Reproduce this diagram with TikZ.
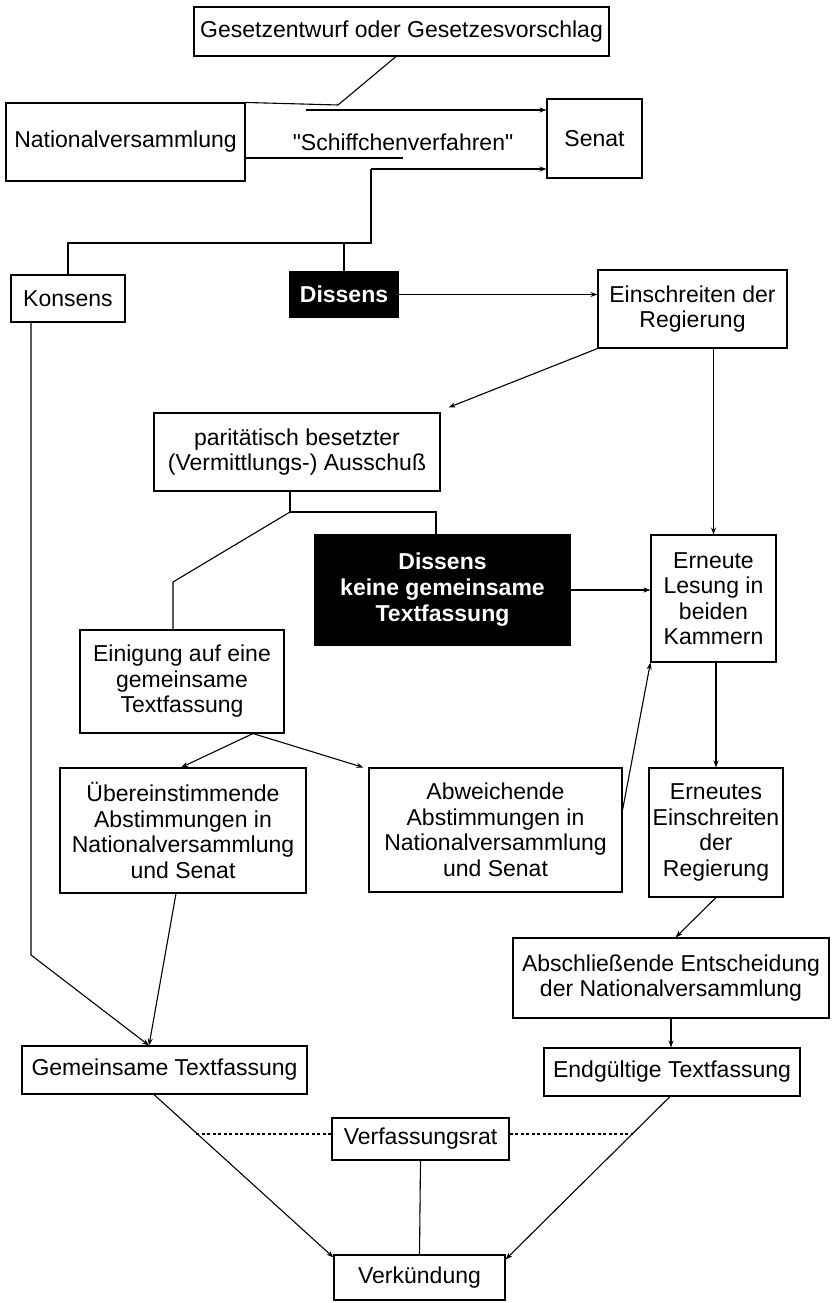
\documentclass[tikz,border=0pt]{standalone}
\usepackage{fontspec}
\setmainfont{Liberation Sans}
\newfontfamily\qfont{Liberation Sans}[Ligatures=TeXOff]
\usetikzlibrary{arrows.meta,calc}
\begin{document}
\begin{tikzpicture}[x=1pt,y=-1pt,
  txt/.style={font=\fontsize{23}{25.5}\selectfont, align=center, inner sep=0pt},
  box/.style={txt, draw, line width=1.1pt},
  dark/.style={box, fill=black, text=white, font=\bfseries\fontsize{23}{26}\selectfont},
  con/.style={line width=1.1pt},
  arr/.style={con, -{Stealth[length=7pt,width=5pt]}},
  dot/.style={con, dash pattern=on 3pt off 2.5pt},
]
\useasboundingbox (0,0) rectangle (831,1303);

\node[box, minimum width=415, minimum height=49] (gesetz) at (401.5,31.5) {Gesetzentwurf oder Gesetzesvorschlag};
\node[box, minimum width=239, minimum height=78] (nat) at (125.5,142) {Nationalversammlung};
\node[txt, font=\qfont\fontsize{23}{25.5}\selectfont] (schiff) at (403,142) {"Schiffchenverfahren"};
\node[box, minimum width=95, minimum height=79] (senat) at (594.5,138.5) {Senat};
\node[box, minimum width=114, minimum height=47] (konsens) at (68,298.5) {Konsens};
\node[dark, minimum width=108, minimum height=45] (dis1) at (344,294.5) {Dissens};
\node[box, minimum width=189, minimum height=78] (einschr) at (692.5,309) {Einschreiten der\\Regierung};
\node[box, minimum width=286, minimum height=78] (parit) at (297,452) {paritätisch besetzter\\(Vermittlungs-) Ausschuß};
\node[dark, minimum width=255, minimum height=110] (dis2) at (442.5,590) {Dissens\\keine gemeinsame\\Textfassung};
\node[box, minimum width=125, minimum height=127] (lesung) at (713.5,598.5) {Erneute\\Lesung in\\beiden\\Kammern};
\node[box, minimum width=204, minimum height=103] (einig) at (182,681.5) {Einigung auf eine\\gemeinsame\\Textfassung};
\node[box, minimum width=246, minimum height=125] (ueber) at (183,830.5) {Übereinstimmende\\Abstimmungen in\\Nationalversammlung\\und Senat};
\node[box, minimum width=253, minimum height=124] (abw) at (495.5,830) {Abweichende\\Abstimmungen in\\Nationalversammlung\\und Senat};
\node[box, minimum width=134, minimum height=129] (erneutes) at (716,832.5) {Erneutes\\Einschreiten\\der\\Regierung};
\node[box, minimum width=316, minimum height=80] (abschl) at (671,978) {Abschließende Entscheidung\\der Nationalversammlung};
\node[box, minimum width=285, minimum height=48] (gemeins) at (164.5,1070) {Gemeinsame Textfassung};
\node[box, minimum width=256, minimum height=48] (endg) at (672,1072) {Endgültige Textfassung};
\node[box, minimum width=177, minimum height=42] (verfass) at (420.5,1139) {Verfassungsrat};
\node[box, minimum width=171, minimum height=45] (verk) at (419.5,1277.5) {Verkündung};

% Schiffchenverfahren
\coordinate (c1) at (338,105);
\draw[con] ([xshift=-5.5pt]gesetz.south) -- (c1);
\draw[con] (nat.north east) -- (c1);
\coordinate (a1) at (306,110);
\draw[arr] (a1) -- (a1 -| senat.west);
\coordinate (u2) at (403,158);
\draw[con] (u2 -| nat.east) -- (u2);
\coordinate (b1) at (371,169);
\draw[arr] (b1) -- (b1 -| senat.west);

% Konsens / Dissens
\coordinate (j1) at (371,243);
\draw[con] (b1) -- (j1) -- (j1 -| konsens.north) -- (konsens.north);
\draw[con] (j1 -| dis1.north) -- (dis1.north);
\draw[arr] (dis1.east) -- (dis1.east -| einschr.west);
\draw[arr] (einschr.south west) -- ([shift={(8,-5)}]parit.north east);
\draw[arr] (lesung.north |- einschr.south) -- (lesung.north);

% Ausschuss
\coordinate (c2) at (290,512);
\coordinate (c3) at (436,512);
\coordinate (c4) at (173,582);
\draw[con] (c2 |- parit.south) -- (c2) -- (c3) -- (c3 |- dis2.north);
\draw[con] (c2) -- (c4) -- (c4 |- einig.north);
\draw[arr] (dis2.east) -- (dis2.east -| lesung.west);

% Einigung
\coordinate (e1) at ([xshift=71pt]einig.south);
\draw[arr] (e1) -- ([xshift=-2pt]ueber.north);
\draw[arr] (e1) -- ([xshift=-5pt]abw.north west);
\draw[arr] ([yshift=20pt]abw.east) -- (lesung.south west);
\draw[arr] (erneutes.north |- lesung.south) -- (erneutes.north);
\draw[arr] (erneutes.south) -- ([xshift=4.5pt]abschl.north);
\draw[arr] (abschl.south) -- (abschl.south |- endg.north);

% Konsens path
\coordinate (k1) at (31,955);
\coordinate (g1) at ([xshift=-15.5pt]gemeins.north);
\draw[arr] (konsens.south -| k1) -- (k1) -- (g1);
\draw[arr] ([xshift=-7pt]ueber.south) -- (g1);

% bottom
\coordinate (gs) at ([xshift=-10.5pt]gemeins.south);
\coordinate (es) at ([xshift=-2pt]endg.south);
\coordinate (vl) at ([yshift=-3pt]verk.north west);
\coordinate (vr) at ([yshift=-5pt]verk.north east);
\draw[arr] (gs) -- (vl);
\draw[arr] (es) -- (vr);
\path ($(gs)!0.235!(vl)$) coordinate (d1);
\path ($(es)!0.223!(vr)$) coordinate (d2);
\coordinate (fw) at ([yshift=5pt]verfass.west);
\coordinate (fe) at ([yshift=5pt]verfass.east);
\draw[dot] (fw) -- (d1 |- fw);
\draw[dot] (fe) -- (d2 |- fe);
\draw[con] (verfass.south) -- (verk.north);
\end{tikzpicture}
\end{document}
